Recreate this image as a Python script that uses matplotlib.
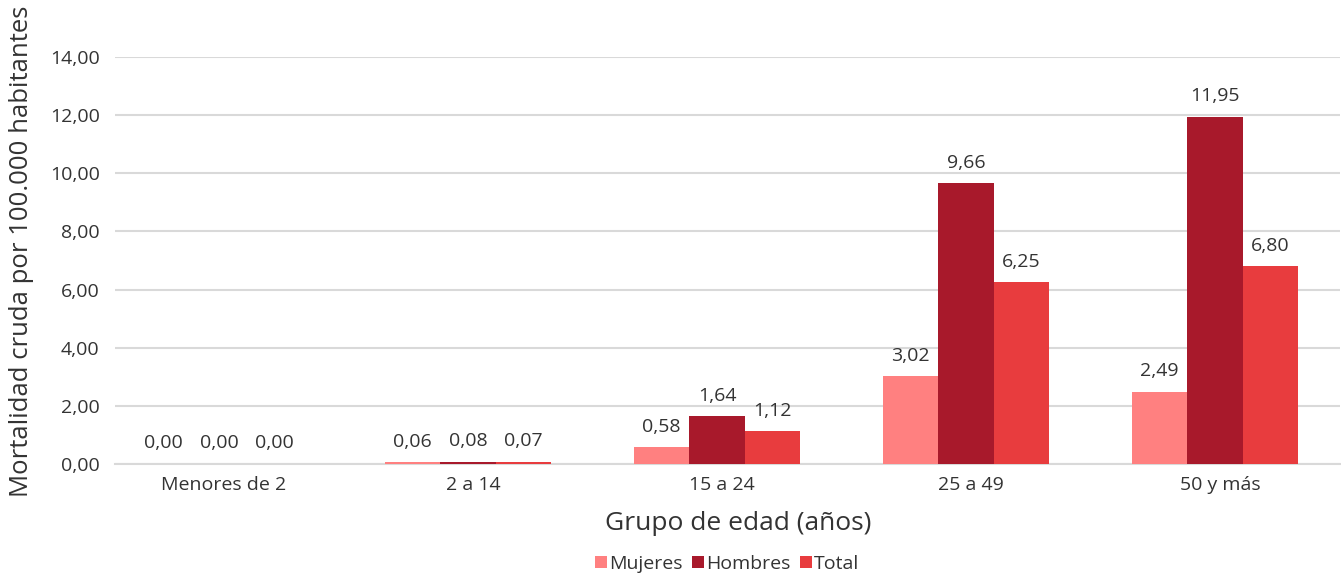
import matplotlib.pyplot as plt
import numpy as np

plt.rcParams['font.family'] = ['Open Sans', 'DejaVu Sans']

grupos = ["Menores de 2", "2 a 14", "15 a 24", "25 a 49", "50 y más"]
mujeres = [0.00, 0.06, 0.58, 3.02, 2.49]
hombres = [0.00, 0.08, 1.64, 9.66, 11.95]
total = [0.00, 0.07, 1.12, 6.25, 6.80]
series = ["Mujeres", "Hombres", "Total"]
colores = ["#FF8080", "#A8192B", "#E83C3E"]


def fmt(v):
    return "{:.2f}".format(v).replace(".", ",")


fig = plt.figure(figsize=(13.41, 5.78), dpi=100)
ax = fig.add_axes([115 / 1341, 1 - 464 / 578, 1225 / 1341, (464 - 57) / 578])

x = np.arange(len(grupos))
ancho = 0.223
for k, (vals, nombre, col) in enumerate(zip([mujeres, hombres, total], series, colores)):
    pos = x + (k - 1) * ancho
    ax.bar(pos, vals, width=ancho, color=col, label=nombre, zorder=3)
    for p, v in zip(pos, vals):
        ax.text(p, v + 0.4, fmt(v), ha="center", va="bottom", fontsize=14, color="#333333")

ax.set_xlim(-0.418, 4.502)
ax.set_ylim(0, 14)
ax.set_yticks(np.arange(0, 15, 2))
ax.set_yticklabels([fmt(v) for v in np.arange(0, 15, 2)])
ax.set_xticks(x + 0.02)
ax.set_xticklabels(grupos)
ax.tick_params(axis="both", length=0, labelsize=14, labelcolor="#333333")
ax.tick_params(axis="y", pad=11)
ax.tick_params(axis="x", pad=9)
ax.grid(axis="y", color="#D9D9D9", linewidth=1.5, zorder=0)
for s in ["top", "right", "left"]:
    ax.spines[s].set_visible(False)
ax.spines["bottom"].set_color("#D9D9D9")
ax.spines["bottom"].set_linewidth(1.5)

fig.text(22 / 1341, 1 - 251 / 578, "Mortalidad cruda por 100.000 habitantes", rotation=90,
         ha="center", va="center", fontsize=18.5, color="#333333")
fig.text(738 / 1341, 1 - 524 / 578, "Grupo de edad (años)", ha="center", va="center",
         fontsize=19, color="#333333")

fig.legend(loc="center", bbox_to_anchor=(727 / 1341, 1 - 564 / 578), ncol=3, frameon=False,
           fontsize=14, handlelength=0.6, handleheight=0.6, handletextpad=0.1, columnspacing=0.5,
           labelcolor="#333333")

fig.savefig("out.png", dpi=100)
